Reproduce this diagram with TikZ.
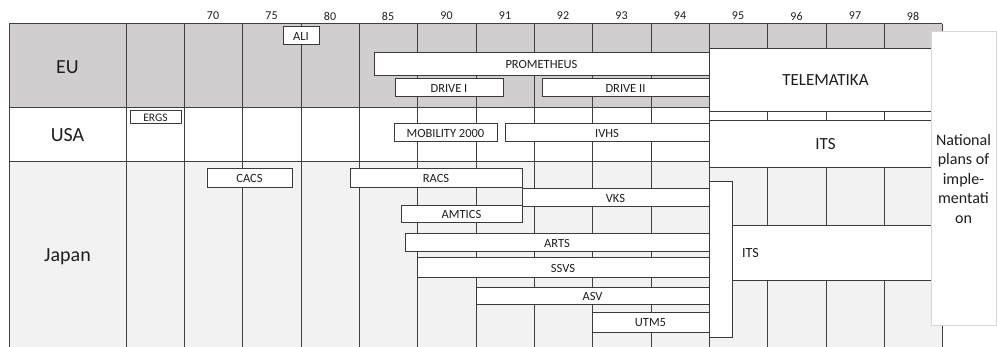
\documentclass[tikz,border=0pt]{standalone}
\usepackage{fontspec}
\setmainfont{Carlito}
\definecolor{eugray}{HTML}{D0CECE}
\definecolor{jpgray}{HTML}{F2F2F2}
\definecolor{linec}{HTML}{404040}
\definecolor{boxc}{HTML}{3A3A3A}
\definecolor{natc}{HTML}{D6D6D6}
\definecolor{txtc}{HTML}{1E1E1E}
\begin{document}
\begin{tikzpicture}[x=1pt,y=-1pt,
  gridline/.style={draw=linec, line width=1pt},
  bar/.style={draw=boxc, fill=white, line width=1pt, inner sep=0pt, outer sep=0pt,
    text=txtc, font=\fontsize{12.5}{14}\selectfont},
  bigbar/.style={bar, font=\fontsize{17}{20}\selectfont},
  country/.style={text=txtc, font=\fontsize{20}{24}\selectfont},
  year/.style={text=txtc, font=\fontsize{12}{14}\selectfont},
  natbox/.style={draw=natc, fill=white, line width=1pt, inner sep=0pt, outer sep=0pt,
    text=txtc, align=center, font=\fontsize{16}{19.5}\selectfont}]
\useasboundingbox (0,0) rectangle (997,347);
% row fills
\fill[eugray] (9,24) rectangle (942,108);
\fill[white] (9,108) rectangle (942,162);
\fill[jpgray] (9,162) rectangle (942,347);
% grid
\foreach \x in {9,126,184,242,301,359,417,476,534,592,651,709,767,826,884,942}
  \draw[gridline] (\x,24) -- (\x,347);
\foreach \y in {24,108,162}
  \draw[gridline] (9,\y) -- (942,\y);
% year labels
\foreach \x/\t in {213/70,271.5/75,330/80,388/85,446.5/90,505/91,563/92,621.5/93,680/94,738/95,796.5/96,855/97,913/98}
  \node[year] at (\x,16) {\t};
% country labels
\node[country] (eu) at (67.5,67) {EU};
\node[country] (usa) at (67.5,135) {USA};
\node[country] (japan) at (67.5,257) {Japan};
% EU
\node[bar, minimum width=36, minimum height=18] (ali) at (301,36) {ALI};
\node[bar, minimum width=335, minimum height=23] (prometheus) at (541.5,64.5) {PROMETHEUS};
\node[bar, minimum width=108, minimum height=18] (drive1) at (449,88) {DRIVE I};
\node[bar, minimum width=167, minimum height=18] (drive2) at (625.5,88) {DRIVE II};
\node[bigbar, minimum width=233, minimum height=63] (telematika) at (825.5,80.5) {TELEMATIKA};
% USA
\node[bar, minimum width=51, minimum height=13, font=\fontsize{11.5}{13}\selectfont] (ergs) at (155.5,117.5) {ERGS};
\node[bar, minimum width=103, minimum height=18] (mobility) at (445.5,133) {MOBILITY 2000};
\node[bar, minimum width=204, minimum height=18] (ivhs) at (607,133) {IVHS};
\node[bigbar, minimum width=233, minimum height=47] (itsusa) at (825.5,144.5) {ITS};
% Japan
\node[bar, minimum width=85, minimum height=19] (cacs) at (249.5,178.5) {CACS};
\node[bar, minimum width=187, minimum height=18] (vks) at (615.5,198) {VKS};
\node[bar, minimum width=172, minimum height=19] (racs) at (436,178.5) {RACS};
\node[bar, minimum width=121, minimum height=17] (amtics) at (461.5,214.5) {AMTICS};
\node[bar, minimum width=304, minimum height=18] (arts) at (557,243) {ARTS};
\node[bar, minimum width=292, minimum height=20] (ssvs) at (563,268) {SSVS};
\node[bar, minimum width=233, minimum height=17] (asv) at (592.5,296.5) {ASV};
\node[bar, minimum width=117, minimum height=20] (utm) at (650.5,323) {UTM5};
\node[bar, minimum width=23, minimum height=156] (tall) at (720.5,260) {};
\node[bar, minimum width=210, minimum height=55, inner xsep=10pt, text width=190,
  align=left, font=\fontsize{14}{16}\selectfont] (itsjp) at (837,253.5) {ITS};
% national plans
\node[natbox, minimum width=65, minimum height=294] (national) at (963.5,179)
  {National\\plans of\\imple-\\mentati\\on};
\end{tikzpicture}
\end{document}
